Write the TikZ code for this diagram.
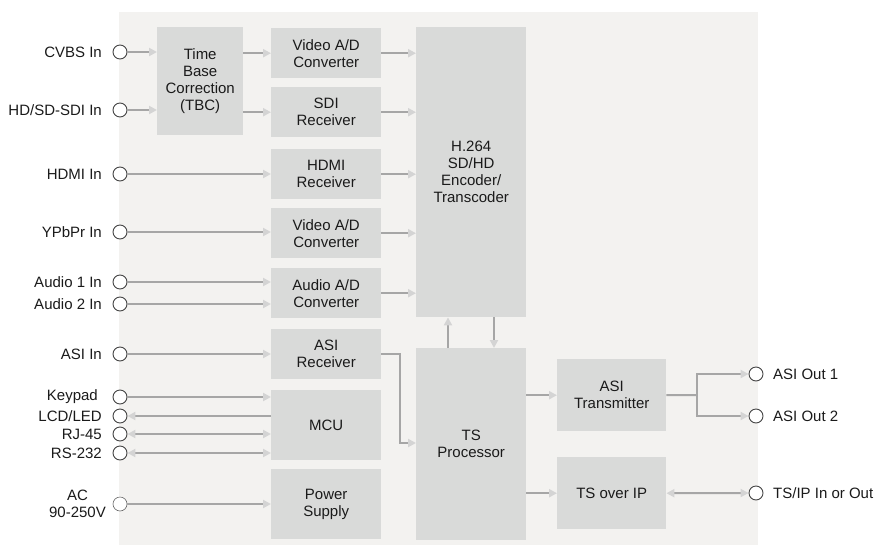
\documentclass[tikz,border=0pt]{standalone}
\usepackage{fontspec}
\setmainfont{Liberation Sans}
\usetikzlibrary{arrows.meta}
\definecolor{bgc}{HTML}{F3F2F0}
\definecolor{boxc}{HTML}{D9DAD9}
\definecolor{linec}{HTML}{A6A6A6}
\definecolor{tipc}{HTML}{D4D4D4}
\definecolor{txtc}{HTML}{1A1A1A}
\definecolor{portc}{HTML}{444444}
\begin{document}
\begin{tikzpicture}[x=1pt,y=-1pt,
  font=\fontsize{15}{17}\selectfont,
  gt/.tip={Triangle[length=8pt,width=8pt,color=tipc]},
  box/.style={fill=boxc, draw=none, inner sep=0pt, align=center, text=txtc, anchor=north west},
  port/.style={circle, draw=portc, fill=white, line width=0.9pt, minimum size=14pt, inner sep=0pt},
  lport/.style={circle, draw=portc!80, fill=white, line width=0.6pt, minimum size=14pt, inner sep=0pt},
  llab/.style={anchor=east, inner sep=0pt, text=txtc, align=right},
  rlab/.style={anchor=west, inner sep=0pt, text=txtc},
  wire/.style={draw=linec, line width=2pt},
  conn/.style={wire, -gt},
  bi/.style={wire, gt-gt}]
\useasboundingbox (0,0) rectangle (875,546);
\fill[bgc] (119,12) rectangle (758,545);

% boxes
\node[box, minimum width=86pt, minimum height=108pt] (tbc) at (157,27) {Time\\Base\\Correction\\(TBC)};
\node[box, minimum width=110pt, minimum height=50pt] (vad1) at (271,28) {Video A/D\\Converter};
\node[box, minimum width=110pt, minimum height=50pt] (sdi) at (271,87) {SDI\\Receiver};
\node[box, minimum width=110pt, minimum height=50pt] (hdmi) at (271,149) {HDMI\\Receiver};
\node[box, minimum width=110pt, minimum height=50pt] (vad2) at (271,208) {Video A/D\\Converter};
\node[box, minimum width=110pt, minimum height=50pt] (aad) at (271,268) {Audio A/D\\Converter};
\node[box, minimum width=110pt, minimum height=50pt] (asir) at (271,329) {ASI\\Receiver};
\node[box, minimum width=110pt, minimum height=70pt] (mcu) at (271,390) {MCU};
\node[box, minimum width=110pt, minimum height=70pt] (psu) at (271,469) {Power\\Supply};
\node[box, minimum width=110pt, minimum height=290pt] (enc) at (416,27) {H.264\\SD/HD\\Encoder/\\Transcoder};
\node[box, minimum width=110pt, minimum height=192pt] (tsp) at (416,348) {TS\\Processor};
\node[box, minimum width=109pt, minimum height=72pt] (asit) at (557,359) {ASI\\Transmitter};
\node[box, minimum width=109pt, minimum height=72pt] (tsip) at (557,457) {TS over IP};

% left ports
\node[port] (cvbs) at (120,52) {};
\node[llab] (cvbsl) at (102,52) {CVBS In};
\node[port] (sdiin) at (120,110) {};
\node[llab] (sdiinl) at (102,110) {HD/SD-SDI In};
\node[port] (hdmiin) at (120,174) {};
\node[llab] (hdmiinl) at (102,174) {HDMI In};
\node[port] (ypbpr) at (120,232) {};
\node[llab] (ypbprl) at (102,232) {YPbPr In};
\node[port] (au1) at (120,282) {};
\node[llab] (au1l) at (102,282) {Audio 1 In};
\node[port] (au2) at (120,304) {};
\node[llab] (au2l) at (102,304) {Audio 2 In};
\node[port] (asiin) at (120,354) {};
\node[llab] (asiinl) at (102,354) {ASI In};
\node[port] (key) at (120,397) {};
\node[llab] (keyl) at (98,397) {Keypad};
\node[port] (lcd) at (120,416) {};
\node[llab] (lcdl) at (102,416) {LCD/LED};
\node[port] (rj) at (120,434) {};
\node[llab] (rjl) at (102,434) {RJ-45};
\node[port] (rs) at (120,453) {};
\node[llab] (rsl) at (102,453) {RS-232};
\node[lport] (ac) at (120,504) {};
\node[anchor=east, inner sep=0pt, text=txtc, align=center] (acl) at (106,504) {AC\\90-250V};

% right ports
\node[port] (out1) at (756,374) {};
\node[rlab] (out1l) at (773,374) {ASI Out 1};
\node[port] (out2) at (756,416) {};
\node[rlab] (out2l) at (773,416) {ASI Out 2};
\node[port] (tsport) at (756,493) {};
\node[rlab] (tsportl) at (773,493) {TS/IP In or Out};

% input connectors
\draw[conn] (cvbs.east) -- (cvbs.east -| tbc.west);
\draw[conn] (sdiin.east) -- (sdiin.east -| tbc.west);
\draw[conn] (tbc.east |- vad1.west) -- (vad1.west);
\draw[conn] (tbc.east |- sdi.west) -- (sdi.west);
\draw[conn] (hdmiin.east) -- (hdmiin.east -| hdmi.west);
\draw[conn] (ypbpr.east) -- (ypbpr.east -| vad2.west);
\draw[conn] (au1.east) -- (au1.east -| aad.west);
\draw[conn] (au2.east) -- (au2.east -| aad.west);
\draw[conn] (asiin.east) -- (asiin.east -| asir.west);
\draw[conn] (key.east) -- (key.east -| mcu.west);
\draw[conn] (lcd.east -| mcu.west) -- (lcd.east);
\draw[bi] (rj.east) -- (rj.east -| mcu.west);
\draw[bi] (rs.east) -- (rs.east -| mcu.west);
\draw[conn] (ac.east) -- (ac.east -| psu.west);

% to encoder
\draw[conn] (vad1.east) -- (vad1.east -| enc.west);
\draw[conn] (sdi.east) -- (sdi.east -| enc.west);
\draw[conn] (hdmi.east) -- (hdmi.east -| enc.west);
\draw[conn] (vad2.east) -- (vad2.east -| enc.west);
\draw[conn] (aad.east) -- (aad.east -| enc.west);

% ASI receiver to TS processor
\coordinate (bend) at (400,443);
\draw[conn] (asir.east) -| (bend) -- (bend -| tsp.west);

% encoder <-> TS processor
\coordinate (upx) at (448,0);
\coordinate (dnx) at (494,0);
\draw[conn] (upx |- tsp.north) -- (upx |- enc.south);
\draw[conn] (dnx |- enc.south) -- (dnx |- tsp.north);

% outputs
\draw[conn] (tsp.east |- asit.west) -- (asit.west);
\draw[conn] (tsp.east |- tsip.west) -- (tsip.west);
\coordinate (split) at (697,395);
\draw[wire] (asit.east) -- (split);
\draw[conn] (split) |- (out1.west);
\draw[conn] (split) |- (out2.west);
\draw[bi] (tsip.east) -- (tsport.west);
\end{tikzpicture}
\end{document}
